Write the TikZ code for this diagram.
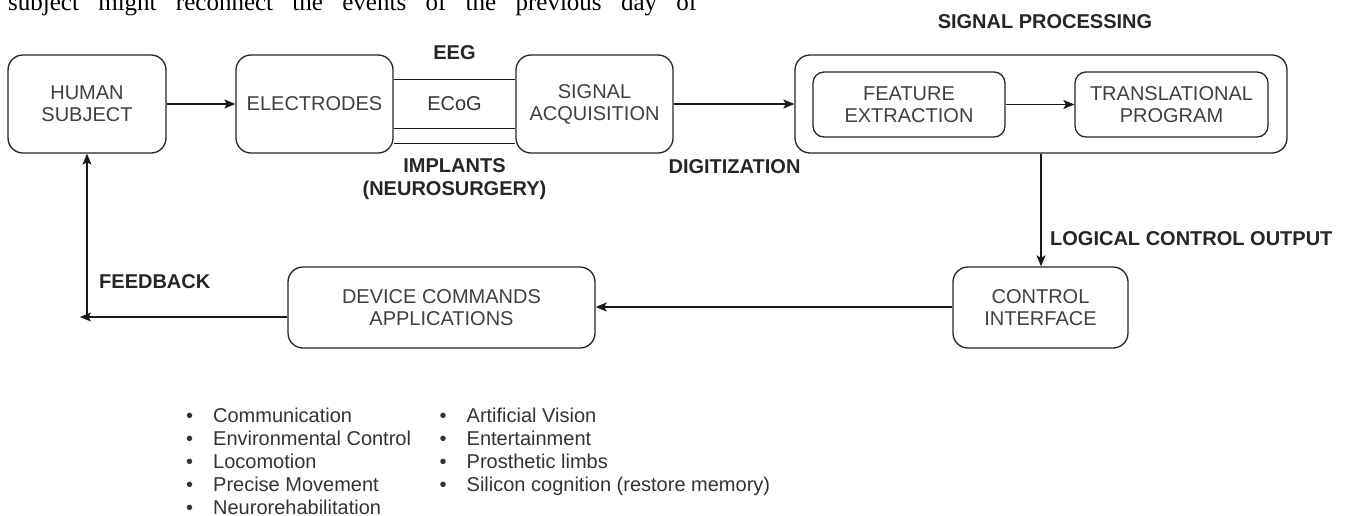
\documentclass[tikz,border=0pt]{standalone}
\usepackage{fontspec}
\setmainfont{Liberation Sans}
\newfontfamily\seriffont{Liberation Serif}
\usetikzlibrary{arrows.meta}
\begin{document}
\begin{tikzpicture}[x=1pt,y=-1pt,
  box/.style={draw=black!85, line width=1.3pt, rounded corners=15pt, align=center,
    font=\fontsize{20}{22}\selectfont, text=black!75, inner sep=0pt},
  ibox/.style={box, rounded corners=11pt},
  lab/.style={font=\bfseries\fontsize{20}{23}\selectfont, text=black!85, inner sep=0pt, align=center},
  plain/.style={font=\fontsize{20}{23}\selectfont, text=black!80, inner sep=0pt},
  conn/.style={line width=1.3pt, draw=black!90},
  arr/.style={conn, -{Stealth[length=11pt,width=9pt,inset=2.5pt]}},
  blt/.style={font=\fontsize{20}{23}\selectfont, text=black!80, inner sep=0pt, anchor=base west}]
\useasboundingbox (0,0) rectangle (1349,515);
\clip (0,0) rectangle (1349,515);
\fill[white] (0,0) rectangle (1349,515);

% top cut-off text line
\node[anchor=base west, inner sep=0pt, font=\seriffont\fontsize{25}{25}\selectfont] (toptext) at (8,10)
  {\makebox[689pt][s]{subject might reconnect the events of the previous day of}};

% main boxes
\node[box, minimum width=158pt, minimum height=98pt] (human) at (87,104) {HUMAN\\SUBJECT};
\node[box, minimum width=157pt, minimum height=98pt] (electrodes) at (314.5,104) {ELECTRODES};
\node[box, minimum width=157pt, minimum height=98pt] (sigacq) at (594.5,104) {SIGNAL\\ACQUISITION};
\node[box, minimum width=492pt, minimum height=98pt] (outer) at (1041,104) {};
\node[ibox, minimum width=192pt, minimum height=65pt] (feature) at (909,104.5) {FEATURE\\EXTRACTION};
\node[ibox, minimum width=193pt, minimum height=65pt] (trans) at (1171.5,104.5) {TRANSLATIONAL\\PROGRAM};
\node[box, minimum width=175pt, minimum height=81pt] (control) at (1040.5,307.5) {CONTROL\\INTERFACE};
\node[box, minimum width=307pt, minimum height=81pt] (device) at (441.5,307.5) {DEVICE COMMANDS\\APPLICATIONS};

% labels
\node[lab] (sp) at (1045,22) {SIGNAL PROCESSING};
\node[lab] (eeg) at (454.5,53) {EEG};
\node[plain] (ecog) at (454.5,104) {ECoG};
\node[lab] (impl) at (454.5,179) {IMPLANTS\\(NEUROSURGERY)};
\node[lab] (dig) at (734.5,167) {DIGITIZATION};
\node[lab, anchor=west] (lco) at (1050,239) {LOGICAL CONTROL OUTPUT};
\node[lab, anchor=west] (fbk) at (99,282) {FEEDBACK};

% connectors
\draw[arr] (human.east) -- (electrodes.west);
\draw[conn] ([yshift=-25pt]electrodes.north east) -- ([yshift=-25pt]sigacq.north west);
\draw[conn] ([yshift=25pt]electrodes.south east) -- ([yshift=25pt]sigacq.south west);
\draw[conn] ([yshift=10pt]electrodes.south east) -- ([yshift=10pt]sigacq.south west);
\draw[arr] (sigacq.east) -- (outer.west);
\draw[arr] (feature.east) -- (trans.west);
\draw[arr] (outer.south) -- (outer.south |- control.north);
\draw[arr] ([yshift=0.5pt]control.west) -- ([yshift=0.5pt]control.west -| device.east);
\coordinate (fbend) at (80,317);
\coordinate (fbup) at (87,315);
\draw[arr] ([yshift=-9.5pt]device.west) -- (fbend);
\draw[arr] (fbup) -- (human.south);

% bullet lists
\foreach \t [count=\i] in {Communication, Environmental Control, Locomotion, Precise Movement, Neurorehabilitation}
  \node[blt] (ba\i) at (186,{399+23*\i}) {\makebox[27pt][l]{\textbullet}\t};
\foreach \t [count=\i] in {Artificial Vision, Entertainment, Prosthetic limbs, Silicon cognition (restore memory)}
  \node[blt] (bb\i) at (439.5,{399+23*\i}) {\makebox[27pt][l]{\textbullet}\t};
\end{tikzpicture}
\end{document}
